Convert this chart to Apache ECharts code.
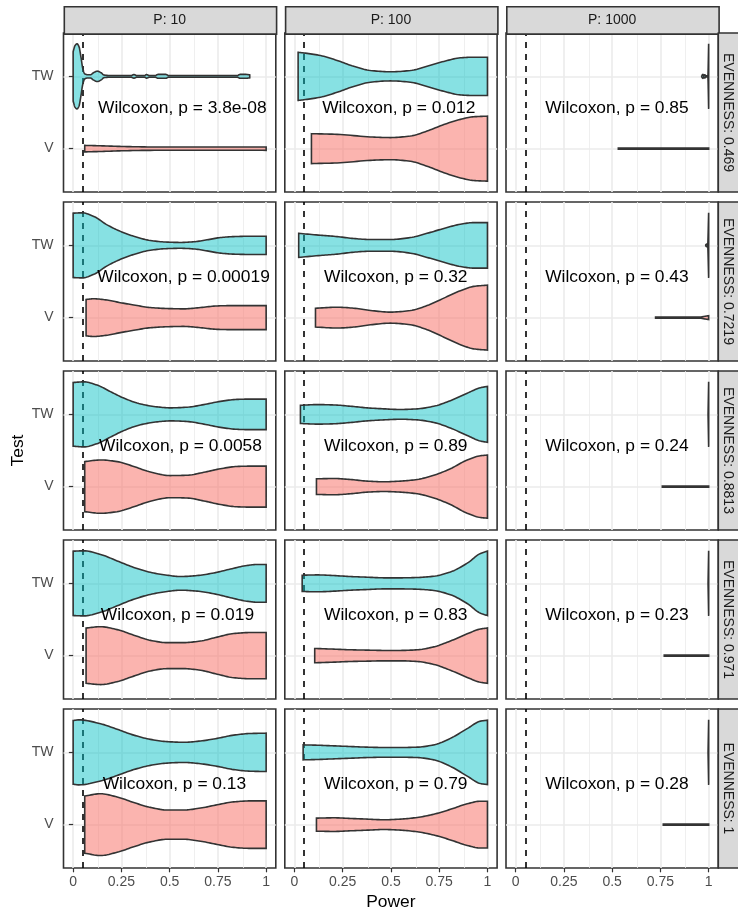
<!DOCTYPE html>
<html>
<head>
<meta charset="utf-8">
<script src="https://cdn.jsdelivr.net/npm/echarts@6/dist/echarts.min.js"></script>
<style>
  html, body { margin: 0; padding: 0; background: #ffffff; }
  #chart { width: 738px; height: 913px; }
</style>
</head>
<body>
<div id="chart"></div>
<script>
// ---- facet levels and axis breaks ----
const evennessLevels = ['0.469', '0.7219', '0.8813', '0.971', '1'];
const pLevels = ['10', '100', '1000'];
const testLevels = ['V', 'TW'];            // y positions 1 and 2
const powerBreaks = [0, 0.25, 0.5, 0.75, 1];
const powerBreakLabels = ['0', '0.25', '0.5', '0.75', '1'];
const powerMinorBreaks = [0.125, 0.375, 0.625, 0.875];
const alphaLevel = 0.05;

// ---- Wilcoxon p-values, one list per evenness row (P = 10, 100, 1000) ----
const wilcoxonE0469 = ['3.8e-08', '0.012', '0.85'];
const wilcoxonE7219 = ['0.00019', '0.32', '0.43'];
const wilcoxonE8813 = ['0.0058', '0.89', '0.24'];
const wilcoxonE971 = ['0.019', '0.83', '0.23'];
const wilcoxonE1 = ['0.13', '0.79', '0.28'];

// ---- violin profiles: [power, relative density (1 = widest in panel)] ----
const twE0469P10 = [[0, 0.76], [0.01, 0.95], [0.02, 1.0], [0.03, 0.92], [0.04, 0.61], [0.05, 0.24], [0.06, 0.08], [0.075, 0.05], [0.09, 0.05], [0.105, 0.11], [0.125, 0.16], [0.145, 0.11], [0.16, 0.04], [0.2, 0.025], [0.3, 0.025], [0.315, 0.055], [0.33, 0.025], [0.37, 0.025], [0.38, 0.055], [0.395, 0.025], [0.425, 0.025], [0.44, 0.06], [0.46, 0.06], [0.48, 0.06], [0.495, 0.025], [0.6, 0.025], [0.85, 0.025], [0.865, 0.06], [0.895, 0.06], [0.915, 0.045]];
const vE0469P10 = [[0.06, 0.10], [0.15, 0.086], [0.25, 0.067], [0.4, 0.052], [0.6, 0.049], [0.8, 0.049], [1.0, 0.052]];
const twE0469P100 = [[0.019, 0.74], [0.048, 0.72], [0.135, 0.64], [0.221, 0.49], [0.307, 0.31], [0.394, 0.18], [0.497, 0.14], [0.601, 0.18], [0.687, 0.31], [0.774, 0.46], [0.86, 0.57], [0.929, 0.59], [1.0, 0.59]];
const vE0469P100 = [[0.088, 0.46], [0.221, 0.44], [0.394, 0.36], [0.497, 0.34], [0.601, 0.39], [0.687, 0.54], [0.774, 0.74], [0.86, 0.90], [0.929, 0.98], [1.0, 1.0]];
const twE0469P1000 = [[0.964, 0.015], [0.97, 0.06], [0.975, 0.015], [0.98, 0.05], [0.985, 0.015], [0.996, 0.015], [1.0, 1.0]];
const vE0469P1000 = [[0.532, 0.015], [0.8, 0.015], [1.0, 0.02]];

const twE7219P10 = [[0, 0.99], [0.047, 1.0], [0.107, 0.89], [0.176, 0.63], [0.245, 0.43], [0.314, 0.28], [0.4, 0.15], [0.487, 0.10], [0.556, 0.09], [0.625, 0.11], [0.694, 0.17], [0.763, 0.24], [0.832, 0.27], [0.918, 0.28], [1.0, 0.28]];
const vE7219P10 = [[0.067, 0.56], [0.107, 0.58], [0.176, 0.54], [0.245, 0.46], [0.314, 0.39], [0.4, 0.31], [0.487, 0.28], [0.573, 0.27], [0.66, 0.31], [0.746, 0.36], [0.832, 0.37], [0.918, 0.37], [1.0, 0.37]];
const twE7219P100 = [[0.022, 0.37], [0.135, 0.31], [0.221, 0.27], [0.307, 0.21], [0.394, 0.18], [0.497, 0.18], [0.601, 0.24], [0.687, 0.37], [0.774, 0.52], [0.86, 0.65], [0.929, 0.70], [1.0, 0.70]];
const vE7219P100 = [[0.109, 0.29], [0.221, 0.32], [0.307, 0.29], [0.394, 0.22], [0.497, 0.17], [0.601, 0.22], [0.687, 0.37], [0.774, 0.60], [0.86, 0.83], [0.929, 0.96], [1.0, 1.0]];
const twE7219P1000 = [[0.985, 0.015], [0.99, 0.04], [0.995, 0.015], [1.0, 1.0]];
const vE7219P1000 = [[0.725, 0.015], [0.95, 0.015], [0.98, 0.04], [1.0, 0.06]];

const twE8813P10 = [[0, 0.98], [0.055, 1.0], [0.124, 0.90], [0.193, 0.70], [0.262, 0.50], [0.349, 0.32], [0.435, 0.23], [0.504, 0.20], [0.59, 0.22], [0.677, 0.30], [0.763, 0.40], [0.849, 0.46], [0.918, 0.47], [1.0, 0.47]];
const vE8813P10 = [[0.06, 0.77], [0.142, 0.82], [0.228, 0.77], [0.314, 0.62], [0.4, 0.45], [0.504, 0.34], [0.59, 0.35], [0.677, 0.44], [0.763, 0.55], [0.849, 0.62], [0.918, 0.63], [1.0, 0.63]];
const twE8813P100 = [[0.031, 0.28], [0.117, 0.30], [0.204, 0.29], [0.29, 0.25], [0.377, 0.20], [0.463, 0.17], [0.549, 0.15], [0.636, 0.17], [0.722, 0.25], [0.808, 0.42], [0.895, 0.65], [0.964, 0.82], [1.0, 0.86]];
const vE8813P100 = [[0.114, 0.24], [0.204, 0.25], [0.29, 0.22], [0.377, 0.17], [0.463, 0.15], [0.549, 0.17], [0.636, 0.22], [0.722, 0.35], [0.808, 0.55], [0.895, 0.82], [0.964, 0.95], [1.0, 0.97]];
const twE8813P1000 = [[0.997, 0.01], [1.0, 1.0]];
const vE8813P1000 = [[0.76, 0.015], [1.0, 0.015]];

const twE971P10 = [[0, 0.99], [0.055, 1.0], [0.142, 0.89], [0.228, 0.69], [0.314, 0.49], [0.4, 0.34], [0.487, 0.25], [0.556, 0.21], [0.642, 0.24], [0.729, 0.32], [0.815, 0.44], [0.901, 0.55], [0.953, 0.58], [1.0, 0.58]];
const vE971P10 = [[0.067, 0.85], [0.142, 0.89], [0.228, 0.80], [0.314, 0.63], [0.4, 0.47], [0.487, 0.40], [0.573, 0.40], [0.66, 0.45], [0.746, 0.57], [0.832, 0.68], [0.918, 0.71], [1.0, 0.71]];
const twE971P100 = [[0.04, 0.25], [0.117, 0.26], [0.204, 0.24], [0.29, 0.21], [0.377, 0.19], [0.463, 0.17], [0.549, 0.17], [0.636, 0.18], [0.722, 0.22], [0.808, 0.35], [0.895, 0.62], [0.964, 0.92], [1.0, 0.99]];
const vE971P100 = [[0.105, 0.22], [0.204, 0.20], [0.29, 0.18], [0.377, 0.17], [0.463, 0.16], [0.549, 0.16], [0.636, 0.18], [0.722, 0.27], [0.808, 0.45], [0.895, 0.67], [0.964, 0.82], [1.0, 0.85]];
const twE971P1000 = [[0.997, 0.01], [1.0, 1.0]];
const vE971P1000 = [[0.77, 0.015], [1.0, 0.015]];

const twE1P10 = [[0, 0.98], [0.03, 1.0], [0.142, 0.88], [0.228, 0.71], [0.314, 0.53], [0.4, 0.40], [0.487, 0.33], [0.573, 0.31], [0.66, 0.35], [0.746, 0.43], [0.832, 0.53], [0.918, 0.58], [1.0, 0.59]];
const vE1P10 = [[0.06, 0.88], [0.142, 0.95], [0.228, 0.85], [0.314, 0.68], [0.4, 0.53], [0.487, 0.45], [0.573, 0.45], [0.66, 0.51], [0.746, 0.61], [0.832, 0.70], [0.918, 0.73], [1.0, 0.73]];
const twE1P100 = [[0.045, 0.23], [0.117, 0.22], [0.204, 0.20], [0.29, 0.18], [0.377, 0.16], [0.463, 0.15], [0.549, 0.15], [0.636, 0.16], [0.722, 0.23], [0.808, 0.43], [0.895, 0.73], [0.964, 0.96], [1.0, 0.99]];
const vE1P100 = [[0.114, 0.20], [0.204, 0.21], [0.29, 0.19], [0.377, 0.17], [0.463, 0.15], [0.549, 0.17], [0.636, 0.22], [0.722, 0.32], [0.808, 0.47], [0.895, 0.64], [0.964, 0.72], [1.0, 0.72]];
const twE1P1000 = [[0.997, 0.01], [1.0, 1.0]];
const vE1P1000 = [[0.765, 0.015], [1.0, 0.015]];

// ---- facet tables built from the lists above ----
const wilcoxonRows = [wilcoxonE0469, wilcoxonE7219, wilcoxonE8813, wilcoxonE971, wilcoxonE1];
const twRows = [
  [twE0469P10, twE0469P100, twE0469P1000],
  [twE7219P10, twE7219P100, twE7219P1000],
  [twE8813P10, twE8813P100, twE8813P1000],
  [twE971P10, twE971P100, twE971P1000],
  [twE1P10, twE1P100, twE1P1000]
];
const vRows = [
  [vE0469P10, vE0469P100, vE0469P1000],
  [vE7219P10, vE7219P100, vE7219P1000],
  [vE8813P10, vE8813P100, vE8813P1000],
  [vE971P10, vE971P100, vE971P1000],
  [vE1P10, vE1P100, vE1P1000]
];

// ---- layout / style ----
const FONT = '"Liberation Sans", Arial, Helvetica, sans-serif';
const colLeft = [63.5, 284.8, 506];
const panelW = 212.3;
const rowTop = [33, 202, 371, 540, 709];
const panelH = 159;
const stripTop = 6;
const stripH = 27.3;
const rightStripW = 28;
const VIOLIN_HALF = 0.45;          // half of the 0.9 category width
const TW_FILL = 'rgba(0,191,196,0.47)';
const V_FILL = 'rgba(248,118,109,0.55)';
const OUTLINE = '#333333';
const GRID_COLOR = '#EBEBEB';
const LABEL_X = 0.292, LABEL_HJUST = 0.187, LABEL_Y = 1.565;
const LABEL_SIZE = 17.4;
const TICK_SIZE = 14;

const measureCtx = document.createElement('canvas').getContext('2d');
measureCtx.font = LABEL_SIZE + 'px ' + FONT;

// monotone cubic (Fritsch-Carlson) resampling of a profile for a smooth outline
function smoothProfile(p, steps) {
  const n = p.length;
  if (n < 3) return p.slice();
  const xs = p.map(d => d[0]), ys = p.map(d => d[1]);
  const dx = [], m = [];
  for (let i = 0; i < n - 1; i++) { dx[i] = xs[i + 1] - xs[i]; m[i] = (ys[i + 1] - ys[i]) / dx[i]; }
  const t = [m[0]];
  for (let i = 1; i < n - 1; i++) {
    if (m[i - 1] * m[i] <= 0) t[i] = 0;
    else {
      const w1 = 2 * dx[i] + dx[i - 1], w2 = dx[i] + 2 * dx[i - 1];
      t[i] = (w1 + w2) / (w1 / m[i - 1] + w2 / m[i]);
    }
  }
  t[n - 1] = m[n - 2];
  const out = [];
  for (let i = 0; i < n - 1; i++) {
    const h = dx[i];
    for (let s = 0; s < steps; s++) {
      const u = s / steps, u2 = u * u, u3 = u2 * u;
      const y = (2 * u3 - 3 * u2 + 1) * ys[i] + (u3 - 2 * u2 + u) * h * t[i] +
                (-2 * u3 + 3 * u2) * ys[i + 1] + (u3 - u2) * h * t[i + 1];
      out.push([xs[i] + u * h, Math.max(0, y)]);
    }
  }
  out.push(p[n - 1]);
  return out;
}

function violinRenderer(profiles) {
  return function (params, api) {
    const prof = profiles[params.dataIndex];
    const yc = api.value(1);
    const pts = smoothProfile(prof, 10);
    const top = [], bottom = [];
    pts.forEach(([x, r]) => {
      const hw = r * VIOLIN_HALF;
      top.push(api.coord([x, yc + hw]));
      bottom.push(api.coord([x, yc - hw]));
    });
    return {
      type: 'polygon',
      shape: { points: top.concat(bottom.reverse()) },
      style: { fill: api.visual('color'), stroke: OUTLINE, lineWidth: 1.6 }
    };
  };
}

function labelRenderer(texts) {
  return function (params, api) {
    const text = texts[params.dataIndex];
    const pt = api.coord([api.value(0), api.value(1)]);
    const w = measureCtx.measureText(text).width;
    return {
      type: 'text',
      x: pt[0] - LABEL_HJUST * w,
      y: pt[1],
      style: { text: text, fill: '#000000', fontSize: LABEL_SIZE, fontFamily: FONT, align: 'left', verticalAlign: 'middle' }
    };
  };
}

const grids = [], xAxes = [], yAxes = [], series = [], graphics = [];

evennessLevels.forEach((ev, r) => {
  pLevels.forEach((p, c) => {
    const k = grids.length;
    const bottomRow = r === evennessLevels.length - 1;
    const firstCol = c === 0;
    grids.push({
      left: colLeft[c], top: rowTop[r], width: panelW, height: panelH,
      show: true, borderColor: OUTLINE, borderWidth: 1.6, backgroundColor: '#ffffff'
    });
    xAxes.push({
      type: 'value', gridIndex: k, min: -0.05, max: 1.05, z: 0,
      axisLine: { show: false },
      axisTick: { show: bottomRow, customValues: powerBreaks, length: 4.3, lineStyle: { color: OUTLINE, width: 1.2 } },
      axisLabel: {
        show: bottomRow, customValues: powerBreaks, margin: 7,
        color: '#4D4D4D', fontSize: TICK_SIZE, fontFamily: FONT,
        formatter: v => powerBreakLabels[powerBreaks.indexOf(v)]
      },
      splitLine: { show: true, lineStyle: { color: GRID_COLOR, width: 1.6 } }
    });
    yAxes.push({
      type: 'value', gridIndex: k, min: 0.4, max: 2.6, z: 0,
      axisLine: { show: false },
      axisTick: { show: firstCol, customValues: [1, 2], length: 4.3, lineStyle: { color: OUTLINE, width: 1.2 } },
      axisLabel: {
        show: firstCol, customValues: [1, 2], margin: 10,
        color: '#4D4D4D', fontSize: TICK_SIZE, fontFamily: FONT,
        formatter: v => testLevels[v - 1]
      },
      splitLine: { show: true, lineStyle: { color: GRID_COLOR, width: 1.6 } }
    });

    // minor grid lines
    series.push({
      type: 'line', xAxisIndex: k, yAxisIndex: k, data: [], z: 1, silent: true,
      markLine: {
        silent: true, symbol: 'none', animation: false, label: { show: false },
        lineStyle: { color: GRID_COLOR, width: 0.8, type: 'solid' },
        data: powerMinorBreaks.map(v => ({ xAxis: v }))
      }
    });
    // violins
    const profiles = [vRows[r][c], twRows[r][c]];
    series.push({
      type: 'custom', xAxisIndex: k, yAxisIndex: k, z: 5,
      renderItem: violinRenderer(profiles),
      encode: { x: 0, y: 1 },
      data: [
        { value: [0.5, 1], itemStyle: { color: V_FILL } },
        { value: [0.5, 2], itemStyle: { color: TW_FILL } }
      ]
    });
    // significance threshold
    series.push({
      type: 'line', xAxisIndex: k, yAxisIndex: k, data: [], z: 6, silent: true,
      markLine: {
        silent: true, symbol: 'none', animation: false, label: { show: false },
        lineStyle: { color: '#000000', width: 1.6, type: [6, 6] },
        data: [{ xAxis: alphaLevel }]
      }
    });
    // Wilcoxon annotation
    series.push({
      type: 'custom', xAxisIndex: k, yAxisIndex: k, z: 7,
      renderItem: labelRenderer(['Wilcoxon, p = ' + wilcoxonRows[r][c]]),
      encode: { x: 0, y: 1 },
      data: [[LABEL_X, LABEL_Y]]
    });
  });
});

// column strips (P)
pLevels.forEach((p, c) => {
  graphics.push({
    type: 'rect', left: colLeft[c], top: stripTop, z: 10,
    shape: { width: panelW, height: stripH },
    style: { fill: '#D9D9D9', stroke: OUTLINE, lineWidth: 1.6 }
  });
  graphics.push({
    type: 'text', x: colLeft[c] + panelW / 2, y: stripTop + stripH / 2, z: 11,
    style: { text: 'P: ' + p, fill: '#1A1A1A', fontSize: TICK_SIZE, fontFamily: FONT, align: 'center', verticalAlign: 'middle' }
  });
});
// row strips (EVENNESS)
evennessLevels.forEach((ev, r) => {
  const x0 = colLeft[2] + panelW;
  graphics.push({
    type: 'rect', x: x0, y: rowTop[r], z: 10,
    shape: { width: rightStripW, height: panelH },
    style: { fill: '#D9D9D9', stroke: OUTLINE, lineWidth: 1.6 }
  });
  graphics.push({
    type: 'text', x: x0 + 10, y: rowTop[r] + panelH / 2, rotation: -Math.PI / 2, z: 11,
    style: { text: 'EVENNESS: ' + ev, fill: '#1A1A1A', fontSize: TICK_SIZE, fontFamily: FONT, align: 'center', verticalAlign: 'middle' }
  });
});
// axis titles
graphics.push({
  type: 'text', x: (colLeft[0] + colLeft[2] + panelW) / 2, y: 902, z: 11,
  style: { text: 'Power', fill: '#000000', fontSize: 17.4, fontFamily: FONT, align: 'center', verticalAlign: 'middle' }
});
graphics.push({
  type: 'text', x: 18, y: (rowTop[0] + rowTop[4] + panelH) / 2, rotation: Math.PI / 2, z: 11,
  style: { text: 'Test', fill: '#000000', fontSize: 17.4, fontFamily: FONT, align: 'center', verticalAlign: 'middle' }
});

const chart = echarts.init(document.getElementById('chart'), null, { renderer: 'canvas' });
chart.setOption({
  animation: false,
  backgroundColor: '#ffffff',
  grid: grids,
  xAxis: xAxes,
  yAxis: yAxes,
  series: series,
  graphic: graphics
});
</script>
</body>
</html>
